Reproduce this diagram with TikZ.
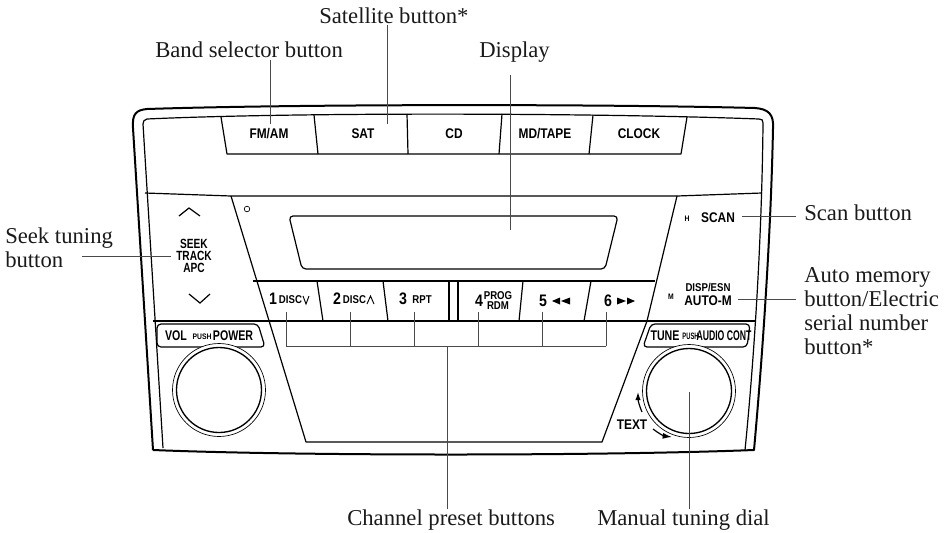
\documentclass[tikz,border=0pt]{standalone}
\usepackage{fontspec}
\setmainfont{Liberation Serif}
\newfontfamily\panelfont[FakeStretch=0.85]{Liberation Sans Bold}
\newfontfamily\tightfont[FakeStretch=0.76]{Liberation Sans Bold}
\newfontfamily\slimfont[FakeStretch=0.62]{Liberation Sans Bold}
\usetikzlibrary{calc,arrows.meta}
\usetikzlibrary{positioning}
\definecolor{ln-text}{HTML}{1A1A1A}
\definecolor{ln-lead}{HTML}{4A4A4A}

\begin{document}
\begin{tikzpicture}[
    x=0.75pt, y=-0.75pt,
    >=latex,
    caption/.style={inner sep=0pt, anchor=base west, align=left, text=ln-text, font=\fontsize{17}{17.8}\selectfont},
    keytext/.style={inner sep=0pt, align=center, font=\panelfont\fontsize{10.5}{8.6}\selectfont},
    tighttext/.style={inner sep=0pt, align=center, font=\tightfont\fontsize{10.5}{8.6}\selectfont},
    midtext/.style={inner sep=0pt, align=center, font=\panelfont\fontsize{8.5}{7}\selectfont},
    tinytext/.style={inner sep=0pt, align=center, font=\panelfont\fontsize{6}{6}\selectfont},
    numtext/.style={inner sep=0pt, font=\panelfont\fontsize{12.5}{12.5}\selectfont},
    shell/.style={draw=black, line width=1.5pt, line join=round},
    trim/.style={draw=black, line width=0.9pt, line join=round},
    chevron/.style={draw=black, line width=0.9pt},
    conn/.style={draw=ln-lead, line width=0.6pt}
]
\useasboundingbox (0,0) rectangle (944,532);

% =========================================================================
% FRAME
% =========================================================================
\draw[shell] (153,450) -- (133,128) .. controls (132,114) and (136,110) .. (147,109)
    .. controls (300,104) and (600,104) .. (755,108) .. controls (768,109) and (774,114) .. (773,128)
    .. controls (771,230) and (763,350) .. (754,450) .. controls (600,456) and (300,456) .. (153,450);
\draw[trim] (163,448) -- (143,124) .. controls (143,121) and (144,120) .. (147,119)
    .. controls (300,112) and (600,113) .. (759,119) .. controls (762,119) and (763,120) .. (763,123)
    .. controls (762,230) and (755,350) .. (745,450);
\draw[trim] (145,193) -- (231,196) -- (677,196) -- (762,193);
\draw[trim] (153,321) -- (755,321);

% =========================================================================
% TOP KEYS
% =========================================================================
\draw[trim] (221,117) -- (227,154) -- (681,154) -- (687,117);
\draw[trim] (314,115) -- (318,154);
\draw[trim] (407,114) -- (408,154);
\draw[trim] (502,114) -- (499,154);
\draw[trim] (593,115) -- (589,154);

\node[keytext] (fmam) at (269,134) {FM/AM};
\node[keytext] (sat) at (363,134) {SAT};
\node[keytext] (cd) at (454,134) {CD};
\node[keytext] (mdtape) at (545,134) {MD/TAPE};
\node[keytext] (clock) at (639,134) {CLOCK};

% =========================================================================
% CENTRE PANEL
% =========================================================================
\draw[trim] (231,196) -- (306,442) -- (602,442) -- (647,321) -- (677,196);
\draw[trim] (253,281) -- (655,281);
\draw[trim] (317,281) -- (323,321);
\draw[trim] (383,281) -- (388,321);
\draw[trim] (449,281) -- (449,321);
\draw[trim] (458,281) -- (458,321);
\draw[trim] (523,281) -- (519,321);
\draw[trim] (591,281) -- (584,321);

\draw[trim, rounded corners=3pt] (289,216) -- (618,216) -- (605,269) -- (302,269) -- cycle;
\draw[line width=0.5pt] (247,209) circle (2.8);

% =========================================================================
% LEFT AND RIGHT SIDE KEYS
% =========================================================================
\draw[chevron] (179,216) -- (189,208) -- (200,216);
\draw[chevron] (189,294) -- (200,303) -- (210,294);
\node[tighttext, font=\tightfont\fontsize{10}{9.2}\selectfont] (seek) at (194,256) {SEEK\\TRACK\\APC};

\node[tinytext] (hkey) at (687,219) {H};
\node[keytext] (scan) at (718,218) {SCAN};
\node[tinytext] (mkey) at (671,297) {M};
\node[midtext] (dispesn) at (708,288) {DISP/ESN};
\node[keytext] (autom) at (708,301) {AUTO-M};

% =========================================================================
% PRESET KEYS
% =========================================================================
\node[numtext] (one) at (273,299) {1};
\node[midtext] (discdown) at (290.5,300) {DISC};
\draw[chevron, line width=0.7pt] (303,296) -- (306,304) -- (309,296);
\node[numtext] (two) at (337,299) {2};
\node[midtext] (discup) at (354.5,300) {DISC};
\draw[chevron, line width=0.7pt] (367,304) -- (370.5,296) -- (374,304);
\node[numtext] (three) at (403,299) {3};
\node[midtext] (rpt) at (422,300) {RPT};
\node[numtext] (four) at (479,301) {4};
\node[midtext] (prog) at (498,295.5) {PROG};
\node[midtext] (rdm) at (498,305.5) {RDM};
\node[numtext] (five) at (543,301) {5};
\fill (552,301) -- (560,297.5) -- (560,304.5) -- cycle (561,301) -- (570,297.5) -- (570,304.5) -- cycle;
\node[numtext] (six) at (608,301) {6};
\fill (626,301) -- (617,297.5) -- (617,304.5) -- cycle (635,301) -- (627,297.5) -- (627,304.5) -- cycle;

% =========================================================================
% DIALS
% =========================================================================
\draw[trim, rounded corners=3pt] (157,324) -- (258,324) -- (265,347) -- (157,347) -- cycle;
\node[tighttext] (vol) at (176,336) {VOL};
\node[tinytext] (pushvol) at (202,337) {PUSH};
\node[tighttext] (power) at (233,336) {POWER};
\draw[fill=white, line width=0.5pt] (219,390) circle (46.5);
\draw[line width=1pt] (219,390) circle (42.5);

\draw[trim, rounded corners=3pt] (651,324) -- (750,324) -- (747,347) -- (643,347) -- cycle;
\node[tighttext] (tune) at (665,336) {TUNE};
\node[tinytext, font=\slimfont\fontsize{7}{6}\selectfont] (pushtune) at (690.5,336.5) {PUSH};
\node[inner sep=0pt, font=\slimfont\fontsize{10.5}{8.6}\selectfont] (audio) at (724,336) {AUDIO CONT};
\draw[fill=white, line width=0.5pt] (689,391) circle (46.5);
\draw[line width=1pt] (689,391) circle (42.5);

\node[keytext] (textkey) at (632,425) {TEXT};
\draw[-{Latex[length=6pt,width=4pt]}, line width=0.9pt] (642,412) .. controls (639,405) and (638,400) .. (638,392);
\draw[-{Latex[length=7pt,width=4.5pt]}, line width=0.9pt] (653,429) .. controls (658,433) and (664,436) .. (672,437);

% =========================================================================
% CAPTIONS AND LEADERS
% =========================================================================
\node[caption] (band) at (155,57) {Band selector button};
\node[caption] (satellite) at (319,23) {Satellite button*};
\node[caption] (display) at (479,57) {Display};
\node[caption] (seektuning) at (5,267) {Seek tuning\\button};
\node[caption] (scanbutton) at (804,220) {Scan button};
\node[caption] (automemory) at (804,354) {Auto memory\\button/Electric\\serial number\\button*};
\node[caption] (channel) at (347,525) {Channel preset buttons};
\node[caption] (manual) at (597,525) {Manual tuning dial};

\coordinate (bandend) at (270,124);
\coordinate (satend) at (387,124);
\coordinate (displayend) at (510,230);
\coordinate (manualend) at (689,392);
\coordinate (seekstart) at (82,256);
\coordinate (scanstart) at (796,216);
\coordinate (autostart) at (796,299);
\coordinate (channelend) at (447,509);
\coordinate (manualstart) at (689,509);

\draw[conn, shorten <=2pt] (band.south -| bandend) -- (bandend);
\draw[conn, shorten <=1.5pt] (satellite.south -| satend) -- (satend);
\draw[conn, shorten <=10pt] (display.south -| displayend) -- (displayend);
\draw[conn, shorten >=3.5pt] (seekstart) -- (seek.west |- seekstart);
\draw[conn, shorten >=5pt] (scanstart) -- (scan.east |- scanstart);
\draw[conn, shorten >=4.5pt] (autostart) -- (autom.east |- autostart);
\draw[conn] (manualstart) -- (manualend);

% preset bracket
\coordinate (bracketmid) at (447,346);
\coordinate (bracketleft) at (286,346);
\coordinate (bracketright) at (606,346);
\draw[conn] (channelend) -- (bracketmid);
\draw[conn] (bracketleft) -- (bracketright);
\foreach \tickx in {286,350,414,478,542,606}
    \draw[conn] (\tickx,312) -- (\tickx,346);

\end{tikzpicture}
\end{document}
